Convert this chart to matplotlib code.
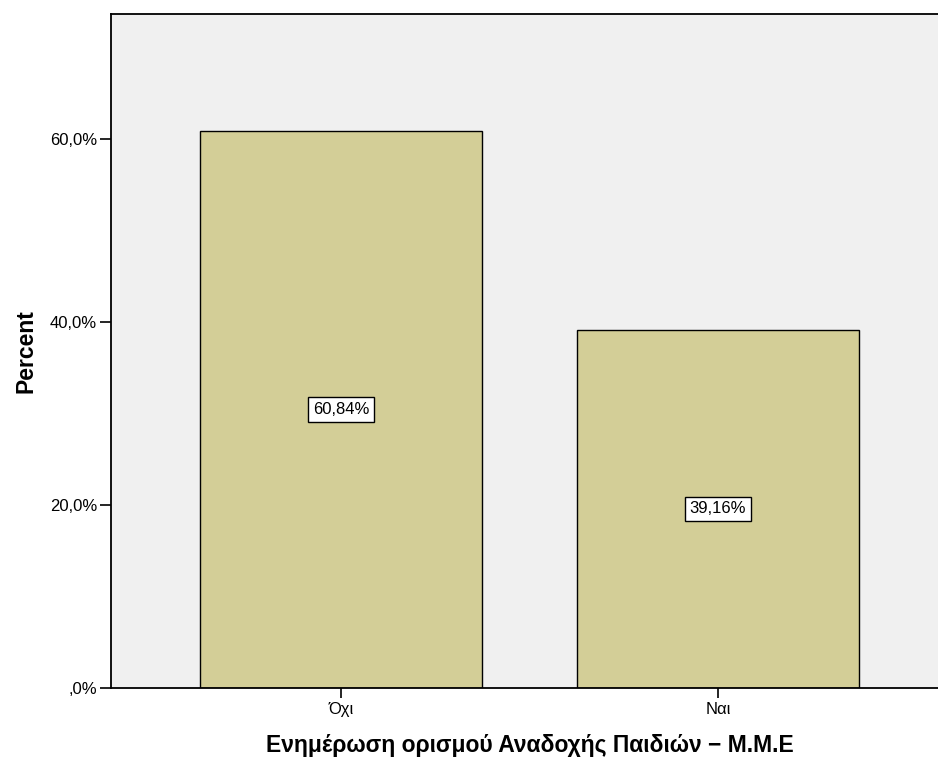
import matplotlib.pyplot as plt

categories = ["Όχι", "Ναι"]
percent = [60.84, 39.16]
bar_labels = ["60,84%", "39,16%"]
yticks = [0, 20, 40, 60]
ytick_labels = [",0%", "20,0%", "40,0%", "60,0%"]

plt.rcParams['font.family'] = ['Liberation Sans', 'DejaVu Sans']

fig = plt.figure(figsize=(9.38, 7.63), dpi=100)
ax = fig.add_axes([111 / 938, 75 / 763, 837 / 938, 674 / 763])
ax.set_facecolor('#f0f0f0')

xpos = list(range(len(categories)))
ax.bar(xpos, percent, width=0.748, color='#d3ce97', edgecolor='black', linewidth=1.0, zorder=2)

for x, v, lab in zip(xpos, percent, bar_labels):
    ax.text(x, v / 2, lab, ha='center', va='center', fontsize=12, zorder=3,
            bbox=dict(boxstyle='square,pad=0.28', facecolor='white', edgecolor='black', linewidth=1.0))

ax.set_xlim(-0.61, 1.61)
ax.set_ylim(0, 73.66)
ax.set_xticks(xpos)
ax.set_xticklabels(categories, fontsize=12)
ax.set_yticks(yticks)
ax.set_yticklabels(ytick_labels, fontsize=12)
ax.tick_params(axis='y', length=8, width=1.2, pad=2)
ax.tick_params(axis='x', length=7, width=1.2, pad=3)

for side in ['left', 'bottom', 'top']:
    ax.spines[side].set_linewidth(1.3)
ax.spines['right'].set_visible(False)

ax.set_ylabel("Percent", fontsize=16.5, fontweight='bold', labelpad=9)
ax.set_xlabel("Ενημέρωση ορισμού Αναδοχής Παιδιών − Μ.Μ.Ε", fontsize=16.5, fontweight='bold', labelpad=12)

fig.savefig("out.png", dpi=100)
